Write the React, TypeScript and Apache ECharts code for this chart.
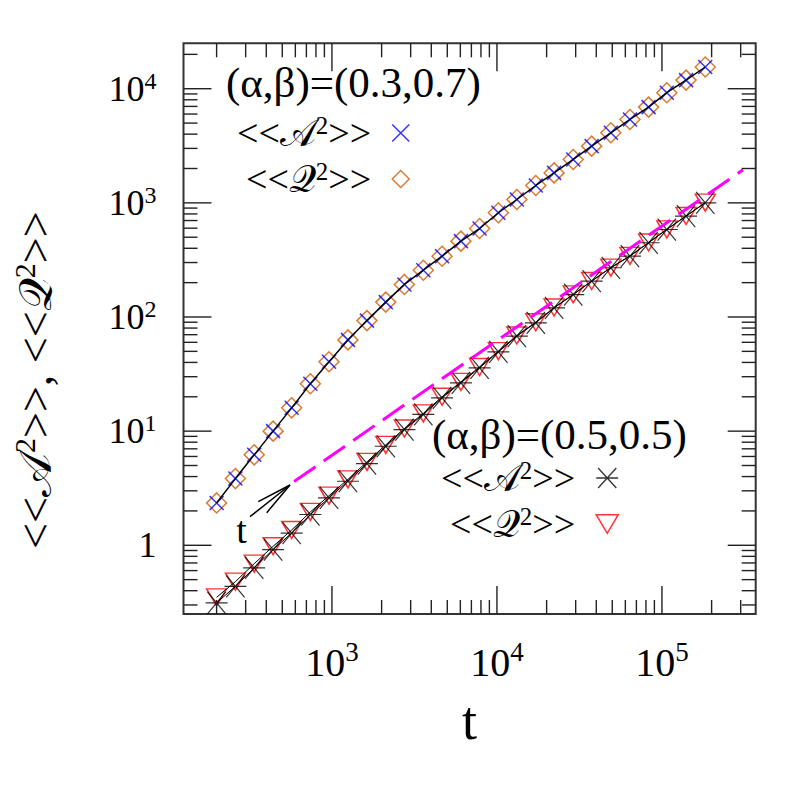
import React, { useEffect, useRef } from "react";
import * as echarts from "echarts";

// ---- data ----
const T = [200, 260, 338, 440, 570, 740, 960, 1250, 1630, 2120, 2750, 3580, 4650, 6050, 7850, 10200, 13200, 17200, 22200, 29000, 37500, 49000, 64000, 83000, 107000, 140000, 183000];
const A2_TOP = [2.35, 3.84, 6.2, 10.0, 16.0, 26.0, 40.5, 63, 93, 135, 193, 257, 341, 462, 596, 819, 1070, 1420, 1830, 2400, 3140, 4110, 5380, 6900, 9230, 11900, 15500];
const Q2_TOP = [2.35, 3.84, 6.2, 10.0, 16.0, 26.0, 40.5, 63, 93, 135, 193, 257, 341, 462, 596, 819, 1070, 1420, 1830, 2400, 3140, 4110, 5380, 6900, 9230, 11900, 15500];
const A2_BOT = [0.313, 0.437, 0.634, 0.917, 1.28, 1.86, 2.6, 3.64, 5.2, 7.37, 10.3, 14.0, 19.6, 26.5, 35.9, 49.4, 67.9, 89.0, 120, 157, 206, 270, 341, 447, 584, 765, 1000];
const Q2_BOT = [0.35, 0.48, 0.69, 0.98, 1.36, 1.96, 2.72, 3.78, 5.38, 7.58, 10.55, 14.3, 20.0, 27.0, 36.5, 50.2, 68.8, 90.0, 121, 158, 207, 271, 343, 449, 586, 768, 1005];
const FIT_T = [590, 310000];
const FIT_Y = [3.62, 1950];

const X_MAJOR = [1000, 10000, 100000];
const X_MINOR = [200, 300, 400, 500, 600, 700, 800, 900, 2000, 3000, 4000, 5000, 6000, 7000, 8000, 9000, 20000, 30000, 40000, 50000, 60000, 70000, 80000, 90000, 200000, 300000];
const Y_MAJOR = [1, 10, 100, 1000, 10000];
const Y_MINOR = [0.3, 0.4, 0.5, 0.6, 0.7, 0.8, 0.9, 2, 3, 4, 5, 6, 7, 8, 9, 20, 30, 40, 50, 60, 70, 80, 90, 200, 300, 400, 500, 600, 700, 800, 900, 2000, 3000, 4000, 5000, 6000, 7000, 8000, 9000, 20000];
const X_RANGE = [126, 370000];
const Y_RANGE = [0.25, 25000];

const HEAD_1 = "(α,β)=(0.3,0.7)";
const HEAD_2 = "(α,β)=(0.5,0.5)";
const LEGEND_TEXT: Record<string, string> = {
  A2a: "{t|<<𝒜}{s|2}{e|>>}",
  Q2a: "{t|<<𝒬}{s|2}{e|>>}",
  A2b: "{t|<<𝒜}{s|2}{e|>>}",
  Q2b: "{t|<<𝒬}{s|2}{e|>>}",
};

const FONT = "'Liberation Serif', 'DejaVu Serif', serif";
const CROSS = "path://M0,0L10,10M10,0L0,10";
const STAR = "path://M0,0L10,11M10,0L0,11M-1,5.5L11,5.5";
const TRI_DOWN = "path://M0,0L20,0L10,17Z";
const ORANGE = "#d05a00";

const pair = (xs: number[], ys: number[]) => xs.map((x, i) => [x, ys[i]]);

const powLabel = (v: number) => {
  const l = Math.log10(v);
  const e = Math.round(l);
  if (Math.abs(l - e) > 1e-6) return "";
  return e === 0 ? "{n|1}" : `{n|10}{s|${e}}`;
};

const tickSeries = (axis: "x" | "y") => ({
  type: "custom",
  silent: true,
  z: 10,
  clip: false,
  dimensions: ["a", "b", "major"],
  encode: { x: 0, y: 1 },
  data:
    axis === "x"
      ? [...X_MAJOR.map((v) => [v, 1, 1]), ...X_MINOR.map((v) => [v, 1, 0])]
      : [...Y_MAJOR.map((v) => [1000, v, 1]), ...Y_MINOR.map((v) => [1000, v, 0])],
  renderItem: (params: any, api: any) => {
    const cs = params.coordSys;
    const len = api.value(2) === 1 ? 28 : 14;
    const style = { stroke: "#222", lineWidth: 1.4 };
    if (axis === "x") {
      const px = api.coord([api.value(0), 1])[0];
      const b = cs.y + cs.height;
      const t = cs.y;
      return {
        type: "group",
        children: [
          { type: "line", shape: { x1: px, y1: b, x2: px, y2: b - len }, style },
          { type: "line", shape: { x1: px, y1: t, x2: px, y2: t + len }, style },
        ],
      };
    }
    const py = api.coord([1000, api.value(1)])[1];
    const l = cs.x;
    const r = cs.x + cs.width;
    return {
      type: "group",
      children: [
        { type: "line", shape: { x1: l, y1: py, x2: l + len, y2: py }, style },
        { type: "line", shape: { x1: r, y1: py, x2: r - len, y2: py }, style },
      ],
    };
  },
});

const legendRich = {
  t: { fontSize: 38, lineHeight: 40, fontFamily: FONT, color: "#000" },
  s: { fontSize: 25, lineHeight: 14, verticalAlign: "top", fontFamily: FONT, color: "#000" },
  e: { fontSize: 38, lineHeight: 40, fontFamily: FONT, color: "#000", padding: [0, 16, 0, 0] },
};

export default function App() {
  const ref = useRef<HTMLDivElement>(null);
  useEffect(() => {
    const chart = echarts.init(ref.current!, null, { renderer: "svg" });
    const option: any = {
      animation: false,
      backgroundColor: "#fff",
      textStyle: { fontFamily: FONT },
      grid: {
        left: 183.5,
        top: 43.3,
        right: 41.3,
        bottom: 183,
        show: true,
        borderColor: "#333",
        borderWidth: 2,
        backgroundColor: "transparent",
        outerBoundsMode: "none",
      },
      xAxis: {
        type: "log",
        min: X_RANGE[0],
        max: X_RANGE[1],
        axisLine: { show: false },
        axisTick: { show: false },
        splitLine: { show: false },
        minorTick: { show: false },
        axisLabel: {
          margin: 24,
          formatter: powLabel,
          rich: {
            n: { fontSize: 40, lineHeight: 48, fontFamily: FONT, color: "#000" },
            s: { fontSize: 27, lineHeight: 16, verticalAlign: "top", fontFamily: FONT, color: "#000" },
          },
        },
        name: "t",
        nameLocation: "middle",
        nameGap: 80,
        nameTextStyle: { fontSize: 54, lineHeight: 54, fontFamily: FONT, color: "#000" },
      },
      yAxis: {
        type: "log",
        min: Y_RANGE[0],
        max: Y_RANGE[1],
        axisLine: { show: false },
        axisTick: { show: false },
        splitLine: { show: false },
        minorTick: { show: false },
        axisLabel: {
          margin: 27,
          formatter: powLabel,
          rich: {
            n: { fontSize: 36, lineHeight: 40, fontFamily: FONT, color: "#000" },
            s: { fontSize: 24, lineHeight: 16, verticalAlign: "top", fontFamily: FONT, color: "#000" },
          },
        },
        name: "{t|<<𝒜}{s|2}{t|>>, <<𝒬}{s|2}{t|>>}",
        nameLocation: "middle",
        nameRotate: 90,
        nameGap: 122,
        nameTextStyle: {
          padding: [0, 103, 0, 0],
          rich: {
            t: { fontSize: 46, lineHeight: 52, fontFamily: FONT, color: "#000" },
            s: { fontSize: 30, lineHeight: 18, verticalAlign: "top", fontFamily: FONT, color: "#000" },
          },
        },
      },
      legend: [
        {
          orient: "vertical",
          align: "right",
          left: 237,
          top: 113,
          padding: 0,
          itemGap: 7,
          itemWidth: 17,
          itemHeight: 17,
          selectedMode: false,
          formatter: (n: string) => LEGEND_TEXT[n],
          textStyle: { rich: legendRich },
          data: [
            { name: "A2a", icon: CROSS, itemStyle: { color: "transparent", borderColor: "#0000ff", borderWidth: 1.5 } },
            { name: "Q2a", icon: "diamond", itemStyle: { color: "transparent", borderColor: ORANGE, borderWidth: 1.5 } },
          ],
        },
        {
          orient: "vertical",
          align: "right",
          left: 441,
          top: 458,
          padding: 0,
          itemGap: 7,
          itemWidth: 22,
          itemHeight: 20,
          selectedMode: false,
          formatter: (n: string) => LEGEND_TEXT[n],
          textStyle: { rich: legendRich },
          data: [
            { name: "A2b", icon: STAR, itemStyle: { color: "transparent", borderColor: "#000", borderWidth: 1.3 } },
            { name: "Q2b", icon: TRI_DOWN, itemStyle: { color: "transparent", borderColor: "#ff0000", borderWidth: 1.5 } },
          ],
        },
      ],
      graphic: [
        { type: "text", x: 226, y: 82, style: { text: HEAD_1, fontSize: 43, fontFamily: FONT, fill: "#000", align: "left", verticalAlign: "middle" } },
        { type: "text", x: 432, y: 434, style: { text: HEAD_2, fontSize: 43, fontFamily: FONT, fill: "#000", align: "left", verticalAlign: "middle" } },
        { type: "text", x: 241.5, y: 530, style: { text: "t", fontSize: 38, fontFamily: FONT, fill: "#000", align: "center", verticalAlign: "middle" } },
        { type: "line", shape: { x1: 250, y1: 516.7, x2: 290, y2: 485 }, style: { stroke: "#000", lineWidth: 1.5 } },
        { type: "polyline", shape: { points: [[258.3, 501.7], [290, 485], [266.7, 512.7]] }, style: { stroke: "#000", lineWidth: 1.5, fill: null } },
      ],
      series: [
        { name: "Q2a", type: "scatter", data: pair(T, Q2_TOP), symbol: "diamond", symbolSize: 20, itemStyle: { color: "transparent", borderColor: ORANGE, borderWidth: 1.5 }, z: 2 },
        { name: "A2a", type: "scatter", data: pair(T, A2_TOP), symbol: CROSS, symbolSize: 14, itemStyle: { color: "transparent", borderColor: "#0000ff", borderWidth: 1.5 }, z: 3 },
        { name: "Q2b", type: "scatter", data: pair(T, Q2_BOT), symbol: "triangle", symbolRotate: 180, symbolSize: [20, 17], itemStyle: { color: "transparent", borderColor: "#ff0000", borderWidth: 1.5 }, z: 2 },
        { name: "A2b", type: "scatter", data: pair(T, A2_BOT), symbol: STAR, symbolSize: [22, 22], itemStyle: { color: "transparent", borderColor: "#000", borderWidth: 1.2 }, z: 3 },
        { type: "line", data: pair(T, A2_TOP), symbol: "none", lineStyle: { color: "#000", width: 1.5 }, z: 4 },
        { type: "line", data: pair(T, A2_BOT), symbol: "none", lineStyle: { color: "#000", width: 1 }, z: 4 },
        { type: "line", data: pair(T, Q2_BOT), symbol: "none", lineStyle: { color: "#000", width: 1 }, z: 4 },
        { type: "line", data: pair(FIT_T, FIT_Y), symbol: "none", lineStyle: { color: "#ff00ff", width: 3, type: [26, 10] }, z: 5 },
        tickSeries("x"),
        tickSeries("y"),
      ],
    };
    chart.setOption(option);
    return () => chart.dispose();
  }, []);
  return <div ref={ref} style={{ position: "absolute", left: 0, top: 0, width: 797, height: 797 }} />;
}
